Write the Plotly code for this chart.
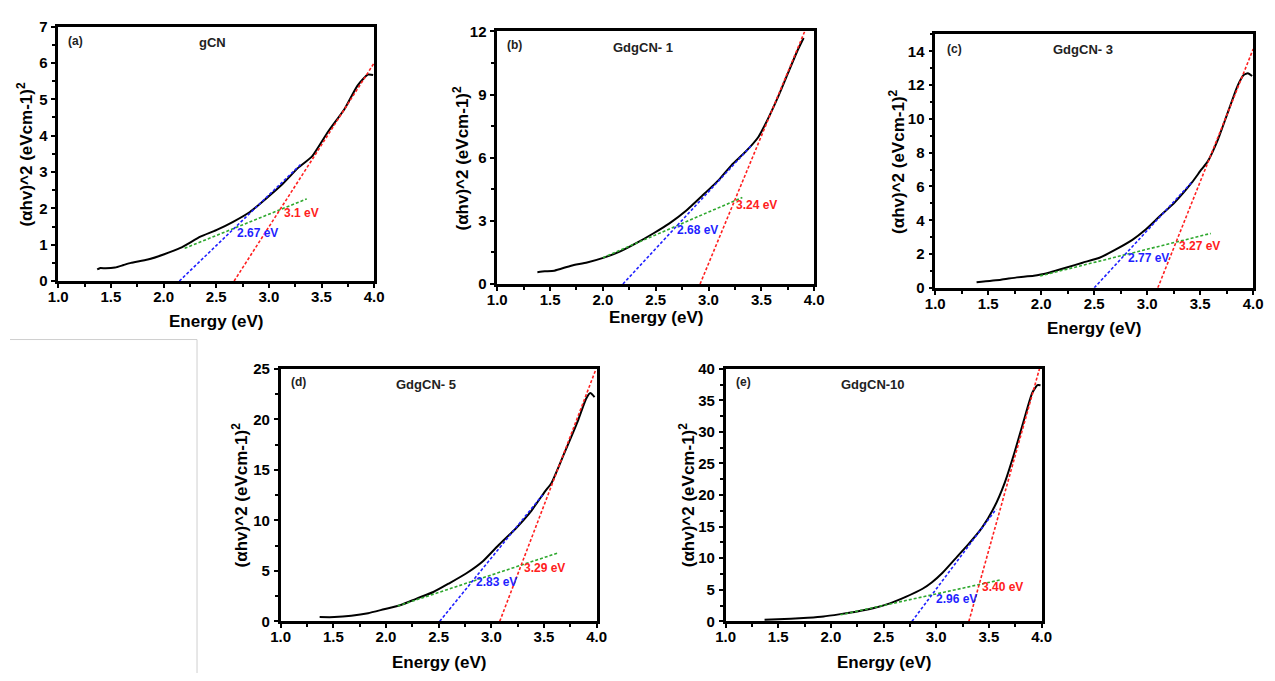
import plotly.graph_objects as go

# ---------------- data ----------------
energy_a = [1.37, 1.40, 1.45, 1.54, 1.62, 1.69, 1.85, 2.00, 2.16, 2.35, 2.50, 2.66, 2.82, 2.97, 3.13, 3.28, 3.41, 3.56, 3.72, 3.84, 3.94, 3.99]
tauc_a = [0.32, 0.36, 0.35, 0.37, 0.44, 0.50, 0.59, 0.73, 0.91, 1.22, 1.40, 1.63, 1.90, 2.26, 2.67, 3.12, 3.43, 4.10, 4.74, 5.37, 5.68, 5.67]

energy_b = [1.38, 1.45, 1.54, 1.70, 1.85, 2.01, 2.17, 2.32, 2.48, 2.63, 2.79, 2.94, 3.10, 3.22, 3.35, 3.47, 3.56, 3.66, 3.75, 3.84, 3.90]
tauc_b = [0.56, 0.60, 0.63, 0.87, 1.02, 1.25, 1.56, 1.95, 2.41, 2.88, 3.49, 4.19, 4.96, 5.66, 6.28, 6.97, 7.82, 8.91, 9.99, 11.07, 11.69]

energy_c = [1.39, 1.62, 1.77, 1.93, 2.08, 2.24, 2.39, 2.55, 2.70, 2.86, 2.98, 3.11, 3.26, 3.42, 3.51, 3.57, 3.67, 3.76, 3.85, 3.91, 3.95, 3.99]
tauc_c = [0.33, 0.48, 0.62, 0.71, 0.91, 1.20, 1.49, 1.78, 2.26, 2.84, 3.42, 4.19, 5.06, 6.22, 6.99, 7.47, 8.82, 10.37, 11.91, 12.59, 12.70, 12.53]

energy_d = [1.37, 1.51, 1.67, 1.83, 1.98, 2.14, 2.29, 2.45, 2.60, 2.76, 2.92, 3.07, 3.23, 3.38, 3.51, 3.57, 3.69, 3.82, 3.90, 3.94, 3.98]
tauc_d = [0.42, 0.42, 0.55, 0.80, 1.19, 1.61, 2.25, 2.90, 3.76, 4.73, 5.95, 7.56, 9.17, 10.94, 12.87, 13.67, 16.57, 19.79, 22.04, 22.60, 22.20]

energy_e = [1.37, 1.62, 1.78, 1.93, 2.09, 2.25, 2.40, 2.56, 2.71, 2.87, 2.96, 3.06, 3.18, 3.30, 3.43, 3.55, 3.65, 3.74, 3.83, 3.91, 3.96, 3.99]
tauc_e = [0.26, 0.41, 0.57, 0.77, 1.14, 1.55, 2.06, 2.84, 3.87, 5.16, 6.19, 7.70, 9.90, 12.10, 14.71, 18.06, 21.94, 26.58, 31.74, 36.13, 37.42, 37.40]

# fitted tangent lines (end points)
green_x = [[2.20, 3.36], [2.00, 3.32], [1.99, 3.60], [2.11, 3.63], [2.09, 3.62]]
green_y = [[0.90, 2.26], [1.25, 4.11], [0.71, 3.22], [1.51, 6.76], [1.03, 6.60]]
blue_x = [[2.15, 3.30], [2.19, 3.41], [2.50, 3.43], [2.51, 3.49], [2.77, 3.57]]
blue_y = [[0.00, 3.20], [0.00, 6.60], [0.00, 6.31], [0.00, 12.55], [0.00, 17.80]]
red_x = [[2.67, 4.00], [2.92, 3.91], [3.10, 4.00], [3.08, 3.99], [3.31, 3.98]]
red_y = [[0.00, 6.00], [0.00, 12.00], [0.00, 14.13], [0.00, 24.87], [0.00, 40.00]]

# band-gap labels
gap_blue = ["2.67 eV", "2.68 eV", "2.77 eV", "2.83 eV", "2.96 eV"]
gap_red = ["3.1 eV", "3.24 eV", "3.27 eV", "3.29 eV", "3.40 eV"]
sample_names = ["gCN", "GdgCN- 1", "GdgCN- 3", "GdgCN- 5", "GdgCN-10"]
panel_tags = ["(a)", "(b)", "(c)", "(d)", "(e)"]
y_max = [7, 12, 15, 25, 40]
y_dtick = [1, 3, 2, 5, 5]
x_ticks = [1.0, 1.5, 2.0, 2.5, 3.0, 3.5, 4.0]
y_ticks = [[0, 1, 2, 3, 4, 5, 6, 7],
           [0, 3, 6, 9, 12],
           [0, 2, 4, 6, 8, 10, 12, 14],
           [0, 5, 10, 15, 20, 25],
           [0, 5, 10, 15, 20, 25, 30, 35, 40]]
x_title = "Energy (eV)"
y_title = "(\u03b1hv)^2 (eVcm-1)<sup>2</sup>"

energies = [energy_a, energy_b, energy_c, energy_d, energy_e]
taucs = [tauc_a, tauc_b, tauc_c, tauc_d, tauc_e]

# ---------------- layout geometry (pixels) ----------------
W, H = 1275, 681
boxes = [(49, 370, 18, 279), (495, 817, 23, 282), (940, 1263, 26, 286),
         (275, 596, 369, 628), (727, 1048, 369, 628)]
blue_pos = [(2.68, 1.32), (2.68, 2.57), (2.80, 1.74), (2.84, 3.86), (2.98, 3.61)]
red_pos = [(3.12, 1.86), (3.24, 3.73), (3.28, 2.49), (3.29, 5.31), (3.42, 5.42)]
tag_pos = [(57, 33), (503, 37), (950, 41), (283, 383), (736, 383)]
name_pos = [(206, 34), (643, 39), (1090, 42), (423, 385), (877, 385)]
ytitle_x = [15, 458, 901, 234, 688]
xtitle_y = [320, 316, 328, 670, 670]

FONT = "Liberation Sans, Arial, sans-serif"
GREEN = "#2ea82e"
BLUE = "#1f1fff"
RED = "#ff2020"


def px(x):
    return x / W


def py(y):
    return 1 - y / H


fig = go.Figure()
annotations = []
layout_axes = {}

for i in range(5):
    xa = "x" if i == 0 else f"x{i + 1}"
    ya = "y" if i == 0 else f"y{i + 1}"
    l, r, t, b = boxes[i]

    fig.add_trace(go.Scatter(
        x=energies[i], y=taucs[i], mode="lines",
        line=dict(color="black", width=2, shape="spline", smoothing=0.5),
        xaxis=xa, yaxis=ya, showlegend=False, hoverinfo="x+y"))
    for xs, ys, col in ((green_x[i], green_y[i], GREEN),
                        (blue_x[i], blue_y[i], BLUE),
                        (red_x[i], red_y[i], RED)):
        fig.add_trace(go.Scatter(
            x=xs, y=ys, mode="lines",
            line=dict(color=col, width=1.6, dash="3px,2px"),
            xaxis=xa, yaxis=ya, showlegend=False, hoverinfo="skip"))

    axis_common = dict(
        ticks="outside", ticklen=4, tickwidth=2, tickcolor="black",
        showline=True, linecolor="black", linewidth=2.5, mirror=True,
        showgrid=False, zeroline=False,
        tickfont=dict(family=FONT, size=15, color="black", weight="bold"),
    )
    layout_axes["xaxis" if i == 0 else f"xaxis{i + 1}"] = dict(
        domain=[px(l), px(r)], range=[1, 4],
        tickmode="array", tickvals=x_ticks,
        ticktext=[f"<b>{v:.1f}</b>" for v in x_ticks],
        ticklabelstandoff=-4,
        anchor=ya,
        minor=dict(ticks="outside", ticklen=3, tickwidth=1.5, tickcolor="black",
                   tickmode="linear", tick0=1, dtick=0.25),
        **axis_common)
    layout_axes["yaxis" if i == 0 else f"yaxis{i + 1}"] = dict(
        domain=[py(b), py(t)], range=[0, y_max[i]],
        tickmode="array", tickvals=y_ticks[i],
        ticktext=[f"<b>{v}</b>" for v in y_ticks[i]],
        ticklabelstandoff=1,
        anchor=xa,
        minor=dict(ticks="outside", ticklen=3, tickwidth=1.5, tickcolor="black",
                   tickmode="linear", tick0=0, dtick=y_dtick[i] / 2),
        **axis_common)

    # band-gap labels
    annotations.append(dict(x=blue_pos[i][0], y=blue_pos[i][1], xref=xa, yref=ya,
                            text=gap_blue[i], showarrow=False, xanchor="left", yanchor="middle",
                            font=dict(family=FONT, size=12, color=BLUE, weight="bold")))
    annotations.append(dict(x=red_pos[i][0], y=red_pos[i][1], xref=xa, yref=ya,
                            text=gap_red[i], showarrow=False, xanchor="left", yanchor="middle",
                            font=dict(family=FONT, size=12, color=RED, weight="bold")))
    # panel tag and sample name
    annotations.append(dict(x=px(tag_pos[i][0]), y=py(tag_pos[i][1]), xref="paper", yref="paper",
                            text=panel_tags[i], showarrow=False, xanchor="left", yanchor="middle",
                            font=dict(family=FONT, size=12, color="#222222", weight="bold")))
    annotations.append(dict(x=px(name_pos[i][0]), y=py(name_pos[i][1]), xref="paper", yref="paper",
                            text=sample_names[i], showarrow=False, xanchor="center", yanchor="middle",
                            font=dict(family=FONT, size=13, color="#222222", weight="bold")))
    # axis titles
    annotations.append(dict(x=px((l + r) / 2), y=py(xtitle_y[i]), xref="paper", yref="paper",
                            text=x_title, showarrow=False, xanchor="center", yanchor="middle",
                            font=dict(family=FONT, size=17, color="black", weight="bold")))
    annotations.append(dict(x=px(ytitle_x[i]), y=py((t + b) / 2), xref="paper", yref="paper",
                            text=y_title, showarrow=False, textangle=-90,
                            xanchor="center", yanchor="middle",
                            font=dict(family=FONT, size=17, color="black", weight="bold")))

shapes = [
    dict(type="line", xref="paper", yref="paper", x0=0, y0=py(339), x1=px(190), y1=py(339),
         line=dict(color="#cfcfcf", width=1)),
    dict(type="line", xref="paper", yref="paper", x0=px(190), y0=py(339), x1=px(190), y1=0,
         line=dict(color="#cfcfcf", width=1)),
]

fig.update_layout(
    width=W, height=H,
    margin=dict(l=0, r=0, t=0, b=0),
    paper_bgcolor="white", plot_bgcolor="white",
    showlegend=False,
    annotations=annotations,
    shapes=shapes,
    font=dict(family=FONT),
    **layout_axes,
)

fig.write_html("out.html")
